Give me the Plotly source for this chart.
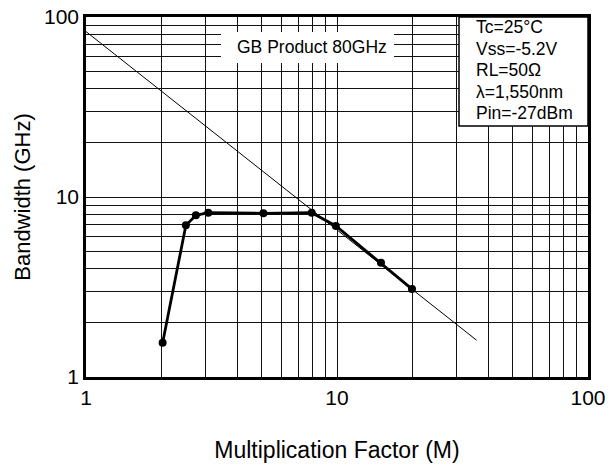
import plotly.graph_objects as go

# Data
mult_factor = [2.02, 2.50, 2.74, 3.07, 5.09, 7.93, 9.9, 14.97, 19.9]
bandwidth = [1.55, 6.96, 7.91, 8.18, 8.12, 8.18, 6.9, 4.31, 3.08]

gb_m = [1, 36]
gb_bw = [83, 1.6]

x_ticks = [1, 10, 100]
y_ticks = [1, 10, 100]
minor_vals = [2, 3, 4, 5, 6, 7, 8, 9, 20, 30, 40, 50, 60, 70, 80, 90]

cond_lines = ["Tc=25°C", "Vss=-5.2V", "RL=50Ω", "λ=1,550nm", "Pin=-27dBm"]
gb_label = "GB Product 80GHz"

FONT = "Liberation Sans, Arial, Helvetica, sans-serif"

W, H = 610, 466
L, R, T, B = 86, 22, 17, 89
PW, PH = W - L - R, H - T - B


def px(xp):
    return (xp - L) / PW


def py(yp):
    return (H - B - yp) / PH


fig = go.Figure()

fig.add_trace(go.Scatter(
    x=gb_m, y=gb_bw, mode="lines",
    line=dict(color="black", width=1),
    hoverinfo="skip", showlegend=False,
))

fig.add_trace(go.Scatter(
    x=mult_factor, y=bandwidth, mode="lines+markers",
    line=dict(color="black", width=2.8),
    marker=dict(color="black", size=8),
    showlegend=False,
))

grid_col = "#111111"
axis_common = dict(
    type="log", automargin=False,
    showgrid=True, gridcolor=grid_col, gridwidth=1,
    showline=True, linecolor="black", linewidth=2.5, mirror=True,
    ticks="", zeroline=False,
    tickfont=dict(family=FONT, size=21, color="black"),
    minor=dict(tickvals=minor_vals, showgrid=True, gridcolor=grid_col, gridwidth=1, ticks=""),
)

fig.update_xaxes(
    range=[0, 2], tickvals=x_ticks, ticktext=[str(v) for v in x_ticks],
    title=dict(text="Multiplication Factor (M)", font=dict(family=FONT, size=23, color="black"), standoff=34),
    **axis_common,
)
fig.update_yaxes(
    range=[0, 2], tickvals=y_ticks, ticktext=[str(v) for v in y_ticks],
    title=dict(text="Bandwidth (GHz)", font=dict(family=FONT, size=22, color="black"), standoff=8),
    **axis_common,
)

# Conditions box (top right)
fig.add_shape(type="rect", xref="paper", yref="paper",
              x0=px(459), x1=1, y0=py(126), y1=1,
              fillcolor="white", line=dict(color="black", width=1.5), layer="above")
centers = [27, 49, 70, 92, 113]
for txt, yc in zip(cond_lines, centers):
    fig.add_annotation(xref="paper", yref="paper", x=px(474), y=py(yc),
                       xanchor="left", yanchor="middle", text=txt, showarrow=False,
                       font=dict(family=FONT, size=17.5, color="black"))

# GB product label box
fig.add_shape(type="rect", xref="paper", yref="paper",
              x0=px(221), x1=px(394), y0=py(63), y1=py(32),
              fillcolor="white", line=dict(width=0), layer="above")
fig.add_annotation(xref="paper", yref="paper", x=px(312), y=py(47),
                   xanchor="center", yanchor="middle", text=gb_label, showarrow=False,
                   font=dict(family=FONT, size=17.5, color="black"))

fig.update_layout(
    width=W, height=H,
    margin=dict(l=L, r=R, t=T, b=B),
    paper_bgcolor="white", plot_bgcolor="white",
    font=dict(family=FONT, color="black"),
    showlegend=False,
)

fig.write_html("out.html")
